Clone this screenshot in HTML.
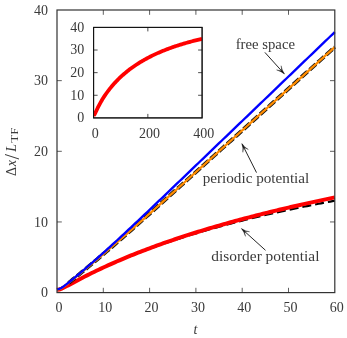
<!DOCTYPE html>
<html><head><meta charset="utf-8"><style>
html,body{margin:0;padding:0;background:#fff;}
svg{display:block;will-change:transform;font-family:"Liberation Serif",serif;font-size:14px;letter-spacing:0px;fill:#3a3a3a;}
</style></head><body>
<svg width="347" height="338" viewBox="0 0 347 338">
<rect width="347" height="338" fill="#fff"/>
<g fill="none">
<path d="M57.00,289.77 L59.31,289.43 L61.63,288.59 L63.95,287.52 L66.26,286.34 L68.58,285.12 L70.89,283.88 L73.20,282.64 L75.52,281.41 L77.84,280.19 L80.15,278.98 L82.47,277.78 L84.78,276.59 L87.09,275.42 L89.41,274.26 L91.72,273.12 L94.04,271.99 L96.36,270.88 L98.67,269.77 L100.98,268.69 L103.30,267.61 L105.62,266.55 L107.93,265.51 L110.25,264.47 L112.56,263.45 L114.88,262.44 L117.19,261.45 L119.50,260.46 L121.82,259.49 L124.14,258.52 L126.45,257.57 L128.77,256.63 L131.08,255.70 L133.39,254.79 L135.71,253.88 L138.03,252.98 L140.34,252.09 L142.66,251.21 L144.97,250.34 L147.29,249.48 L149.60,248.63 L151.92,247.79 L154.23,246.96 L156.55,246.13 L158.86,245.32 L161.18,244.51 L163.49,243.71 L165.81,242.92 L168.12,242.14 L170.44,241.37 L172.75,240.60 L175.06,239.84 L177.38,239.09 L179.69,238.34 L182.01,237.61 L184.32,236.87 L186.64,236.15 L188.96,235.43 L191.27,234.73 L193.59,234.02 L195.90,233.33 L198.22,232.64 L200.53,231.95 L202.84,231.27 L205.16,230.60 L207.47,229.94 L209.79,229.28 L212.11,228.62 L214.42,227.98 L216.74,227.34 L219.05,226.70 L221.36,226.07 L223.68,225.44 L226.00,224.82 L228.31,224.21 L230.62,223.60 L232.94,223.00 L235.26,222.40 L237.57,221.80 L239.89,221.21 L242.20,220.63 L244.51,220.05 L246.83,219.48 L249.15,218.91 L251.46,218.34 L253.78,217.78 L256.09,217.23 L258.41,216.68 L260.72,216.13 L263.03,215.59 L265.35,215.05 L267.66,214.52 L269.98,213.99 L272.30,213.46 L274.61,212.94 L276.93,212.43 L279.24,211.91 L281.56,211.40 L283.87,210.90 L286.19,210.40 L288.50,209.90 L290.82,209.41 L293.13,208.92 L295.45,208.43 L297.76,207.95 L300.07,207.48 L302.39,207.00 L304.71,206.53 L307.02,206.06 L309.34,205.60 L311.65,205.14 L313.97,204.68 L316.28,204.23 L318.60,203.78 L320.91,203.33 L323.23,202.89 L325.54,202.45 L327.86,202.01 L330.17,201.58 L332.49,201.15 L334.80,200.72" stroke="#000" stroke-width="2.2" stroke-dasharray="9,4"/>
<path d="M57.00,289.77 L59.31,289.43 L61.63,288.59 L63.95,287.52 L66.26,286.34 L68.58,285.11 L70.89,283.87 L73.20,282.63 L75.52,281.40 L77.84,280.17 L80.15,278.95 L82.47,277.75 L84.78,276.56 L87.09,275.38 L89.41,274.22 L91.72,273.07 L94.04,271.93 L96.36,270.81 L98.67,269.70 L100.98,268.60 L103.30,267.52 L105.62,266.45 L107.93,265.40 L110.25,264.35 L112.56,263.32 L114.88,262.30 L117.19,261.29 L119.50,260.29 L121.82,259.31 L124.14,258.33 L126.45,257.37 L128.77,256.41 L131.08,255.47 L133.39,254.53 L135.71,253.61 L138.03,252.70 L140.34,251.79 L142.66,250.90 L144.97,250.01 L147.29,249.13 L149.60,248.26 L151.92,247.40 L154.23,246.55 L156.55,245.71 L158.86,244.87 L161.18,244.05 L163.49,243.23 L165.81,242.41 L168.12,241.61 L170.44,240.81 L172.75,240.02 L175.06,239.24 L177.38,238.46 L179.69,237.69 L182.01,236.93 L184.32,236.18 L186.64,235.43 L188.96,234.69 L191.27,233.95 L193.59,233.22 L195.90,232.50 L198.22,231.78 L200.53,231.07 L202.84,230.36 L205.16,229.66 L207.47,228.96 L209.79,228.27 L212.11,227.59 L214.42,226.91 L216.74,226.24 L219.05,225.57 L221.36,224.91 L223.68,224.25 L226.00,223.59 L228.31,222.95 L230.62,222.30 L232.94,221.66 L235.26,221.03 L237.57,220.40 L239.89,219.78 L242.20,219.16 L244.51,218.54 L246.83,217.93 L249.15,217.32 L251.46,216.72 L253.78,216.12 L256.09,215.52 L258.41,214.93 L260.72,214.35 L263.03,213.76 L265.35,213.18 L267.66,212.61 L269.98,212.04 L272.30,211.47 L274.61,210.91 L276.93,210.35 L279.24,209.79 L281.56,209.24 L283.87,208.69 L286.19,208.14 L288.50,207.60 L290.82,207.06 L293.13,206.52 L295.45,205.99 L297.76,205.46 L300.07,204.93 L302.39,204.41 L304.71,203.89 L307.02,203.37 L309.34,202.86 L311.65,202.35 L313.97,201.84 L316.28,201.34 L318.60,200.83 L320.91,200.33 L323.23,199.84 L325.54,199.35 L327.86,198.85 L330.17,198.37 L332.49,197.88 L334.80,197.40" stroke="#f00" stroke-width="4"/>
<path d="M68.58,282.92 L70.79,281.17 L73.01,279.38 L75.23,277.58 L77.45,275.77 L79.67,273.95 L81.89,272.11 L84.10,270.28 L86.32,268.43 L88.54,266.58 L90.76,264.73 L92.98,262.87 L95.20,261.01 L97.42,259.14 L99.63,257.26 L101.85,255.39 L104.07,253.50 L106.29,251.61 L108.51,249.72 L110.73,247.81 L112.95,245.91 L115.16,243.99 L117.38,242.07 L119.60,240.15 L121.82,238.21 L124.04,236.28 L126.26,234.33 L128.48,232.39 L130.69,230.43 L132.91,228.48 L135.13,226.52 L137.35,224.55 L139.57,222.58 L141.79,220.61 L144.01,218.64 L146.22,216.66 L148.44,214.68 L150.66,212.70 L152.88,210.72 L155.10,208.73 L157.32,206.75 L159.54,204.76 L161.75,202.77 L163.97,200.78 L166.19,198.79 L168.41,196.80 L170.63,194.80 L172.85,192.81 L175.06,190.82 L177.28,188.82 L179.50,186.83 L181.72,184.83 L183.94,182.84 L186.16,180.84 L188.38,178.85 L190.59,176.85 L192.81,174.86 L195.03,172.86 L197.25,170.86 L199.47,168.87 L201.69,166.87 L203.91,164.88 L206.12,162.88 L208.34,160.89 L210.56,158.89 L212.78,156.89 L215.00,154.90 L217.22,152.90 L219.44,150.91 L221.65,148.91 L223.87,146.91 L226.09,144.92 L228.31,142.92 L230.53,140.93 L232.75,138.93 L234.97,136.93 L237.18,134.94 L239.40,132.94 L241.62,130.95 L243.84,128.95 L246.06,126.95 L248.28,124.96 L250.50,122.96 L252.71,120.97 L254.93,118.97 L257.15,116.97 L259.37,114.98 L261.59,112.98 L263.81,110.99 L266.03,108.99 L268.24,107.00 L270.46,105.00 L272.68,103.00 L274.90,101.01 L277.12,99.01 L279.34,97.02 L281.56,95.02 L283.77,93.02 L285.99,91.03 L288.21,89.03 L290.43,87.04 L292.65,85.04 L294.87,83.05 L297.08,81.05 L299.30,79.05 L301.52,77.06 L303.74,75.06 L305.96,73.07 L308.18,71.07 L310.40,69.08 L312.61,67.08 L314.83,65.08 L317.05,63.09 L319.27,61.09 L321.49,59.10 L323.71,57.10 L325.93,55.11 L328.14,53.11 L330.36,51.11 L332.58,49.12 L334.80,47.12" stroke="#111" stroke-width="3.9" stroke-dasharray="8.3,2.8"/>
<path d="M57.00,289.65 L59.31,289.17 L61.63,287.96 L63.95,286.41 L66.26,284.71 L68.58,282.92 L70.89,281.09 L73.20,279.23 L75.52,277.35 L77.84,275.45 L80.15,273.55 L82.47,271.63 L84.78,269.71 L87.09,267.79 L89.41,265.86 L91.72,263.92 L94.04,261.98 L96.36,260.03 L98.67,258.08 L100.98,256.12 L103.30,254.16 L105.62,252.19 L107.93,250.21 L110.25,248.23 L112.56,246.24 L114.88,244.24 L117.19,242.24 L119.50,240.23 L121.82,238.21 L124.14,236.19 L126.45,234.16 L128.77,232.13 L131.08,230.09 L133.39,228.05 L135.71,226.00 L138.03,223.95 L140.34,221.90 L142.66,219.84 L144.97,217.78 L147.29,215.71 L149.60,213.65 L151.92,211.58 L154.23,209.51 L156.55,207.44 L158.86,205.36 L161.18,203.29 L163.49,201.21 L165.81,199.13 L168.12,197.06 L170.44,194.98 L172.75,192.90 L175.06,190.82 L177.38,188.74 L179.69,186.65 L182.01,184.57 L184.32,182.49 L186.64,180.41 L188.96,178.33 L191.27,176.24 L193.59,174.16 L195.90,172.08 L198.22,170.00 L200.53,167.91 L202.84,165.83 L205.16,163.75 L207.47,161.67 L209.79,159.58 L212.11,157.50 L214.42,155.42 L216.74,153.34 L219.05,151.25 L221.36,149.17 L223.68,147.09 L226.00,145.00 L228.31,142.92 L230.62,140.84 L232.94,138.76 L235.26,136.67 L237.57,134.59 L239.89,132.51 L242.20,130.42 L244.51,128.34 L246.83,126.26 L249.15,124.18 L251.46,122.09 L253.78,120.01 L256.09,117.93 L258.41,115.85 L260.72,113.76 L263.03,111.68 L265.35,109.60 L267.66,107.52 L269.98,105.43 L272.30,103.35 L274.61,101.27 L276.93,99.19 L279.24,97.10 L281.56,95.02 L283.87,92.94 L286.19,90.86 L288.50,88.77 L290.82,86.69 L293.13,84.61 L295.45,82.53 L297.76,80.44 L300.07,78.36 L302.39,76.28 L304.71,74.19 L307.02,72.11 L309.34,70.03 L311.65,67.95 L313.97,65.86 L316.28,63.78 L318.60,61.70 L320.91,59.62 L323.23,57.53 L325.54,55.45 L327.86,53.37 L330.17,51.29 L332.49,49.20 L334.80,47.12" stroke="#ff8c00" stroke-width="2.3"/>
<path d="M57.00,289.42 L59.31,288.92 L61.63,287.70 L63.95,286.13 L66.26,284.41 L68.58,282.60 L70.89,280.74 L73.20,278.85 L75.52,276.93 L77.84,275.00 L80.15,273.05 L82.47,271.09 L84.78,269.11 L87.09,267.12 L89.41,265.12 L91.72,263.11 L94.04,261.08 L96.36,259.04 L98.67,257.00 L100.98,254.94 L103.30,252.87 L105.62,250.79 L107.93,248.70 L110.25,246.59 L112.56,244.48 L114.88,242.37 L117.19,240.24 L119.50,238.10 L121.82,235.96 L124.14,233.81 L126.45,231.65 L128.77,229.48 L131.08,227.31 L133.39,225.14 L135.71,222.96 L138.03,220.77 L140.34,218.58 L142.66,216.39 L144.97,214.19 L147.29,211.99 L149.60,209.79 L151.92,207.58 L154.23,205.37 L156.55,203.17 L158.86,200.95 L161.18,198.74 L163.49,196.53 L165.81,194.31 L168.12,192.09 L170.44,189.88 L172.75,187.66 L175.06,185.44 L177.38,183.22 L179.69,181.00 L182.01,178.78 L184.32,176.56 L186.64,174.34 L188.96,172.11 L191.27,169.89 L193.59,167.67 L195.90,165.45 L198.22,163.23 L200.53,161.00 L202.84,158.78 L205.16,156.56 L207.47,154.34 L209.79,152.11 L212.11,149.89 L214.42,147.67 L216.74,145.44 L219.05,143.22 L221.36,141.00 L223.68,138.77 L226.00,136.55 L228.31,134.33 L230.62,132.11 L232.94,129.88 L235.26,127.66 L237.57,125.44 L239.89,123.21 L242.20,120.99 L244.51,118.77 L246.83,116.54 L249.15,114.32 L251.46,112.10 L253.78,109.87 L256.09,107.65 L258.41,105.43 L260.72,103.20 L263.03,100.98 L265.35,98.76 L267.66,96.53 L269.98,94.31 L272.30,92.09 L274.61,89.86 L276.93,87.64 L279.24,85.42 L281.56,83.19 L283.87,80.97 L286.19,78.75 L288.50,76.52 L290.82,74.30 L293.13,72.08 L295.45,69.85 L297.76,67.63 L300.07,65.41 L302.39,63.18 L304.71,60.96 L307.02,58.74 L309.34,56.51 L311.65,54.29 L313.97,52.07 L316.28,49.84 L318.60,47.62 L320.91,45.40 L323.23,43.17 L325.54,40.95 L327.86,38.73 L330.17,36.50 L332.49,34.28 L334.80,32.05" stroke="#0000ff" stroke-width="2.35"/>
<rect x="57.0" y="10.0" width="277.80" height="282.60" stroke="#333" stroke-width="1.2"/>
<path d="M103.30,292.6 v-4.8 M103.30,10.0 v4.8 M149.60,292.6 v-4.8 M149.60,10.0 v4.8 M195.90,292.6 v-4.8 M195.90,10.0 v4.8 M242.20,292.6 v-4.8 M242.20,10.0 v4.8 M288.50,292.6 v-4.8 M288.50,10.0 v4.8 M57.0,221.95 h4.8 M334.8,221.95 h-4.8 M57.0,151.30 h4.8 M334.8,151.30 h-4.8 M57.0,80.65 h4.8 M334.8,80.65 h-4.8" stroke="#2a2a2a" stroke-width="0.75"/>
<rect x="93.6" y="27.4" width="108.50" height="90.50" fill="#fff" stroke="#111" stroke-width="1"/>
<clipPath id="ic"><rect x="93.6" y="27.4" width="108.50" height="90.50"/></clipPath>
<path d="M93.60,115.64 L94.68,114.27 L95.77,111.99 L96.85,109.68 L97.94,107.46 L99.02,105.34 L100.11,103.33 L101.19,101.41 L102.28,99.58 L103.36,97.83 L104.45,96.15 L105.53,94.54 L106.62,92.99 L107.70,91.50 L108.79,90.06 L109.88,88.67 L110.96,87.32 L112.04,86.02 L113.13,84.76 L114.21,83.54 L115.30,82.36 L116.38,81.21 L117.47,80.09 L118.55,79.01 L119.64,77.95 L120.72,76.93 L121.81,75.93 L122.89,74.95 L123.98,74.01 L125.06,73.08 L126.15,72.18 L127.23,71.30 L128.32,70.44 L129.41,69.60 L130.49,68.78 L131.57,67.98 L132.66,67.20 L133.75,66.44 L134.83,65.69 L135.91,64.96 L137.00,64.25 L138.08,63.55 L139.17,62.86 L140.25,62.20 L141.34,61.54 L142.43,60.90 L143.51,60.27 L144.59,59.65 L145.68,59.05 L146.76,58.46 L147.85,57.88 L148.94,57.31 L150.02,56.75 L151.10,56.21 L152.19,55.67 L153.27,55.15 L154.36,54.63 L155.44,54.12 L156.53,53.63 L157.62,53.14 L158.70,52.66 L159.78,52.19 L160.87,51.73 L161.95,51.28 L163.04,50.83 L164.12,50.39 L165.21,49.96 L166.29,49.54 L167.38,49.13 L168.46,48.72 L169.55,48.32 L170.63,47.92 L171.72,47.54 L172.81,47.15 L173.89,46.78 L174.97,46.41 L176.06,46.05 L177.14,45.69 L178.23,45.34 L179.31,44.99 L180.40,44.65 L181.49,44.32 L182.57,43.99 L183.66,43.66 L184.74,43.34 L185.82,43.03 L186.91,42.72 L188.00,42.41 L189.08,42.11 L190.16,41.81 L191.25,41.52 L192.33,41.23 L193.42,40.95 L194.50,40.67 L195.59,40.39 L196.68,40.12 L197.76,39.85 L198.84,39.59 L199.93,39.33 L201.01,39.07 L202.10,38.82" stroke="#f00" stroke-width="3.8" clip-path="url(#ic)"/>
<rect x="93.6" y="27.4" width="108.50" height="90.50" stroke="#111" stroke-width="1"/>
<path d="M147.85,117.9 v-4 M147.85,27.4 v4 M93.6,95.28 h4 M202.1,95.28 h-4 M93.6,72.65 h4 M202.1,72.65 h-4 M93.6,50.03 h4 M202.1,50.03 h-4" stroke="#111" stroke-width="0.75"/>
<path d="M264.9,52.4 L283.96,73.51 M256.5,172.6 L242.16,144.11 M265.5,250.3 L241.89,228.94" stroke="#1a1a1a" stroke-width="0.95"/>
<path d="M284.5,74.1 Q281.05,71.21 276.55,69.89 Q279.06,70.58 281.48,70.76 Q281.55,68.33 281.12,65.76 Q281.98,70.37 284.5,74.1 Z M241.8,143.4 Q244.36,147.10 248.35,149.57 Q246.11,148.24 243.82,147.42 Q243.12,149.74 242.85,152.34 Q243.24,147.66 241.8,143.4 Z M241.3,228.4 Q245.02,230.93 249.64,231.79 Q247.07,231.36 244.64,231.42 Q244.82,233.84 245.51,236.36 Q244.18,231.85 241.3,228.4 Z" fill="#1a1a1a" stroke="#1a1a1a" stroke-width="0.35" stroke-linejoin="round"/>
</g>
<text x="59.00" y="311.6" text-anchor="middle">0</text>
<text x="105.30" y="311.6" text-anchor="middle">10</text>
<text x="151.60" y="311.6" text-anchor="middle">20</text>
<text x="197.90" y="311.6" text-anchor="middle">30</text>
<text x="244.20" y="311.6" text-anchor="middle">40</text>
<text x="290.50" y="311.6" text-anchor="middle">50</text>
<text x="336.80" y="311.6" text-anchor="middle">60</text>
<text x="48.00" y="297.20" text-anchor="end">0</text>
<text x="48.00" y="226.55" text-anchor="end">10</text>
<text x="48.00" y="155.90" text-anchor="end">20</text>
<text x="48.00" y="85.25" text-anchor="end">30</text>
<text x="48.00" y="14.60" text-anchor="end">40</text>
<text x="95.30" y="137.6" text-anchor="middle">0</text>
<text x="149.55" y="137.6" text-anchor="middle">200</text>
<text x="203.80" y="137.6" text-anchor="middle">400</text>
<text x="84.20" y="122.30" text-anchor="end">0</text>
<text x="84.20" y="99.68" text-anchor="end">10</text>
<text x="84.20" y="77.05" text-anchor="end">20</text>
<text x="84.20" y="54.43" text-anchor="end">30</text>
<text x="84.20" y="31.80" text-anchor="end">40</text>
<text x="235.7" y="48.7" textLength="59.3" lengthAdjust="spacingAndGlyphs">free space</text>
<text x="202.7" y="183" textLength="106.6" lengthAdjust="spacingAndGlyphs">periodic potential</text>
<text x="211.3" y="260.7" textLength="108.2" lengthAdjust="spacingAndGlyphs">disorder potential</text>
<text x="193.6" y="334" font-style="italic">t</text>
<text transform="translate(15.8,176) rotate(-90)"><tspan x="0">Δ</tspan><tspan x="9.7" font-style="italic">x</tspan><tspan x="16.4" font-size="20" dy="3.3">/</tspan><tspan x="24.2" dy="-3.3" font-style="italic">L</tspan><tspan x="33.3" dy="2.5" font-size="9.8" textLength="15.4" lengthAdjust="spacingAndGlyphs">TF</tspan></text>
</svg>
</body></html>
